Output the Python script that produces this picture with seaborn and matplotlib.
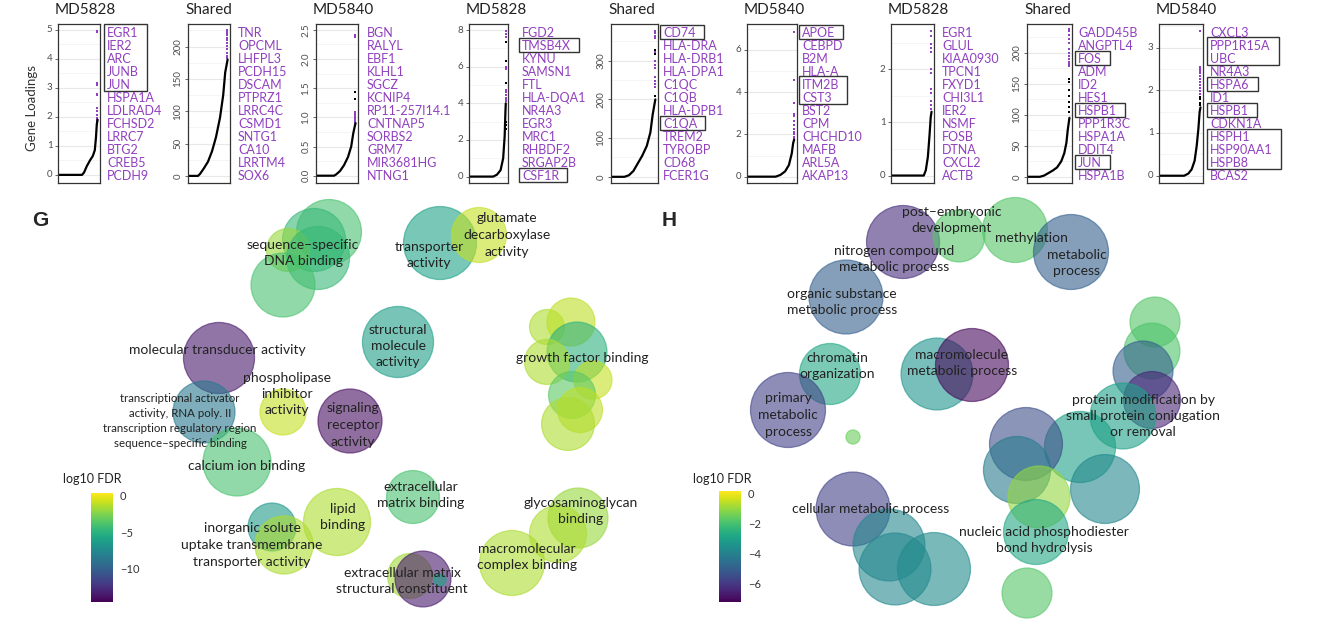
import numpy as np
import pandas as pd
import matplotlib
matplotlib.use('Agg')
import matplotlib.pyplot as plt
import seaborn as sns
from matplotlib.patches import Rectangle
from matplotlib.colors import Normalize
from matplotlib.cm import ScalarMappable
from matplotlib.ticker import FixedLocator, AutoMinorLocator

# ---------------- data: top row (gene loadings) ----------------
panel_titles = ['MD5828', 'Shared', 'MD5840'] * 3

top_genes = [
    ['EGR1', 'IER2', 'ARC', 'JUNB', 'JUN', 'HSPA1A', 'LDLRAD4', 'FCHSD2', 'LRRC7', 'BTG2', 'CREB5', 'PCDH9'],
    ['TNR', 'OPCML', 'LHFPL3', 'PCDH15', 'DSCAM', 'PTPRZ1', 'LRRC4C', 'CSMD1', 'SNTG1', 'CA10', 'LRRTM4', 'SOX6'],
    ['BGN', 'RALYL', 'EBF1', 'KLHL1', 'SGCZ', 'KCNIP4', 'RP11-257I14.1', 'CNTNAP5', 'SORBS2', 'GRM7', 'MIR3681HG', 'NTNG1'],
    ['FGD2', 'TMSB4X', 'KYNU', 'SAMSN1', 'FTL', 'HLA-DQA1', 'NR4A3', 'EGR3', 'MRC1', 'RHBDF2', 'SRGAP2B', 'CSF1R'],
    ['CD74', 'HLA-DRA', 'HLA-DRB1', 'HLA-DPA1', 'C1QC', 'C1QB', 'HLA-DPB1', 'C1QA', 'TREM2', 'TYROBP', 'CD68', 'FCER1G'],
    ['APOE', 'CEBPD', 'B2M', 'HLA-A', 'ITM2B', 'CST3', 'BST2', 'CPM', 'CHCHD10', 'MAFB', 'ARL5A', 'AKAP13'],
    ['EGR1', 'GLUL', 'KIAA0930', 'TPCN1', 'FXYD1', 'CHI3L1', 'IER2', 'NSMF', 'FOSB', 'DTNA', 'CXCL2', 'ACTB'],
    ['GADD45B', 'ANGPTL4', 'FOS', 'ADM', 'ID2', 'HES1', 'HSPB1', 'PPP1R3C', 'HSPA1A', 'DDIT4', 'JUN', 'HSPA1B'],
    ['CXCL3', 'PPP1R15A', 'UBC', 'NR4A3', 'HSPA6', 'ID1', 'HSPB1', 'CDKN1A', 'HSPH1', 'HSP90AA1', 'HSPB8', 'BCAS2'],
]

# (first, last) index of boxed gene groups
boxed_groups = [
    [(0, 4)], [], [], [(1, 1), (11, 11)], [(0, 0), (7, 7)], [(0, 0), (4, 5)],
    [], [(2, 2), (6, 6), (10, 10)], [(1, 2), (4, 4), (6, 6), (8, 10)],
]

# sorted loading curves: gene rank (fraction) and loading
curve_rank = [
    [0, 0.6, 0.65, 0.72, 0.8, 0.87, 0.92, 0.95, 0.97, 0.99],
    [0, 0.25, 0.3, 0.4, 0.5, 0.6, 0.7, 0.8, 0.88, 0.93, 0.99],
    [0, 0.45, 0.5, 0.6, 0.7, 0.8, 0.88, 0.93, 0.97, 0.99],
    [0, 0.65, 0.75, 0.85, 0.92, 0.96, 0.98, 0.99],
    [0, 0.3, 0.4, 0.5, 0.6, 0.7, 0.8, 0.88, 0.93, 0.99],
    [0, 0.6, 0.7, 0.8, 0.88, 0.94, 0.97, 0.99],
    [0, 0.8, 0.85, 0.9, 0.94, 0.97, 0.99],
    [0, 0.3, 0.4, 0.5, 0.6, 0.7, 0.8, 0.87, 0.92, 0.95, 0.99],
    [0, 0.6, 0.7, 0.78, 0.85, 0.9, 0.94, 0.97, 0.99],
]
curve_load = [
    [0, 0, 0.08, 0.3, 0.5, 0.65, 0.85, 1.3, 1.75, 1.9],
    [0, 0, 3, 12, 22, 38, 60, 90, 125, 160, 180],
    [0, 0, 0.02, 0.08, 0.18, 0.32, 0.5, 0.72, 0.85, 0.9],
    [0, 0, 0.1, 0.35, 1.0, 2.2, 3.5, 4.0],
    [0, 0, 4, 15, 35, 55, 80, 115, 160, 200],
    [0, 0, 0.08, 0.25, 0.55, 1.1, 1.6, 1.75],
    [0, 0, 0.1, 0.35, 0.75, 1.1, 1.2],
    [0, 0, 2, 6, 10, 15, 25, 38, 55, 75, 95],
    [0, 0, 0.05, 0.15, 0.35, 0.7, 1.1, 1.5, 1.6],
]
# loadings of the 12 labelled genes (purple) and other top genes (black)
top_load = [
    [4.95, 4.93, 3.15, 3.1, 2.8, 2.75, 2.3, 2.2, 2.05, 1.95, 1.9, 1.85],
    [226, 224, 221, 218, 214, 210, 206, 201, 196, 190, 186, 183],
    [2.42, 2.38, 1.1, 1.07, 1.04, 1.01, 0.99, 0.97, 0.95, 0.93, 0.92, 0.91],
    [7.95, 7.8, 7.6, 6.0, 5.95, 5.85, 4.7, 4.6, 4.45, 4.3, 4.2, 4.1],
    [378, 372, 365, 360, 322, 300, 290, 280, 258, 248, 240, 232],
    [6.85, 4.6, 3.5, 2.95, 2.85, 2.65, 2.45, 2.25, 2.1, 2.0, 1.9, 1.8],
    [2.72, 2.62, 2.48, 2.4, 2.32, 2.0, 1.92, 1.62, 1.55, 1.4, 1.32, 1.26],
    [238, 234, 228, 222, 215, 205, 200, 195, 190, 185, 181, 178],
    [3.38, 2.55, 2.5, 2.45, 2.4, 2.33, 2.27, 2.2, 2.12, 2.05, 1.98, 1.92],
]
other_load = [
    [], [], [1.43, 1.32], [7.35, 6.3, 5.1, 3.0, 2.8, 2.6], [328, 318, 210], [], [],
    [158, 152, 140, 130, 120, 112, 105], [1.85, 1.8, 1.7, 1.65],
]
tick_values = [
    [0, 1, 2, 3, 4, 5], [0, 50, 100, 150, 200], [0, 0.5, 1, 1.5, 2, 2.5],
    [0, 2, 4, 6, 8], [0, 100, 200, 300], [0, 2, 4, 6],
    [0, 1, 2], [0, 50, 100, 150, 200], [0, 1, 2, 3],
]
tick_labels = [
    ['0', '1', '2', '3', '4', '5'], ['0', '50', '100', '150', '200'], ['0.0', '0.5', '1.0', '1.5', '2.0', '2.5'],
    ['0', '2', '4', '6', '8'], ['0', '100', '200', '300'], ['0', '2', '4', '6'],
    ['0', '1', '2'], ['0', '50', '100', '150', '200'], ['0', '1', '2', '3'],
]

# ---------------- data: GO term bubbles ----------------
g_dim1 = [329, 314, 288, 318, 283, 440, 479, 398, 547, 571, 577, 547, 593, 572, 580, 568,
          219, 204, 283, 350, 237, 272, 284, 337, 413, 410, 423, 440, 578, 558, 512]
g_dim2 = [232, 240, 250, 258, 285, 243, 235, 342, 327, 322, 352, 362, 380, 395, 410, 424,
          358, 412, 412, 421, 462, 527, 545, 522, 497, 576, 579, 580, 518, 534, 563]
g_ngenes = [169, 159, 74, 159, 164, 213, 121, 202, 49, 92, 144, 81, 58, 88, 81, 112,
            202, 154, 85, 164, 185, 92, 135, 180, 112, 81, 125, 6, 144, 130, 169]
g_fdr = [-4.0, -4.6, -2.0, -4.6, -4.0, -6.0, -1.0, -6.2, -1.5, -1.2, -5.0, -1.5, -1.0, -3.5, -1.2, -1.5,
         -13.5, -8.5, -1.0, -14.0, -4.0, -6.5, -1.5, -1.5, -4.0, -1.8, -13.5, -6.0, -2.0, -1.5, -1.5]
g_terms = ['sequence–specific\nDNA binding', 'transporter\nactivity', 'glutamate\ndecarboxylase\nactivity',
           'structural\nmolecule\nactivity', 'growth factor binding', 'molecular transducer activity',
           'phospholipase\ninhibitor\nactivity', 'signaling\nreceptor\nactivity', 'calcium ion binding',
           'inorganic solute\nuptake transmembrane\ntransporter activity', 'lipid\nbinding',
           'extracellular\nmatrix binding', 'extracellular matrix\nstructural constituent',
           'glycosaminoglycan\nbinding', 'macromolecular\ncomplex binding',
           'transcriptional activator\nactivity, RNA poly. II\ntranscription regulatory region\nsequence–specific binding']

h_dim1 = [903, 959, 1015, 1071, 846, 830, 788, 937, 972, 853, 853, 889, 895, 934,
          1155, 1152, 1143, 1152, 1123, 1080, 1026, 1017, 1039, 1036, 1105, 1027]
h_dim2 = [242, 236, 230, 252, 297, 374, 410, 374, 365, 437, 509, 545, 569, 569,
          322, 351, 371, 400, 416, 447, 444, 470, 497, 532, 489, 593]
h_ngenes = [213, 108, 169, 225, 219, 149, 225, 207, 213, 8, 219, 207, 207, 213,
            100, 125, 144, 130, 174, 202, 213, 180, 154, 169, 190, 100]
h_fdr = [-6.3, -1.8, -1.8, -5.0, -5.0, -2.8, -5.8, -3.4, -7.1, -1.5, -5.8, -3.8, -3.8, -3.7,
         -1.8, -1.9, -5.0, -6.5, -3.0, -3.0, -5.5, -4.2, -1.0, -2.8, -3.8, -1.8]
h_terms = ['post–embryonic\ndevelopment', 'methylation', 'metabolic\nprocess', 'nitrogen compound\nmetabolic process',
           'organic substance\nmetabolic process', 'chromatin\norganization', 'primary\nmetabolic\nprocess',
           'macromolecule\nmetabolic process', 'cellular metabolic process',
           'protein modification by\nsmall protein conjugation\nor removal',
           'nucleic acid phosphodiester\nbond hydrolysis']

g_fdr_range = (-14.5, 0.3)
h_fdr_range = (-7.27, 0.2)

# ---------------- layout ----------------
W, H = 1327, 627
PURPLE = '#9140bf'
TXT = '#222222'
panel_px = [(58, 100), (188, 230), (316, 358), (469, 508), (611, 658),
            (747, 797), (891, 934), (1027, 1072), (1159, 1203)]
label_gap = [7, 8, 9, 14, 5, 5, 8, 6, 7]
y_limits = [(-0.28, 5.2), (-11, 235), (-0.125, 2.6), (-0.35, 8.33), (-16, 395),
            (-0.3, 7.23), (-0.14, 2.85), (-10, 246), (-0.17, 3.55)]
g_label_xy = [(303, 253), (429, 255), (507, 235), (398, 346), (582, 358), (217, 350),
              (287, 394), (353, 425), (247, 466), (252, 545), (343, 517), (421, 495),
              (402, 581), (581, 511), (527, 557), (180, 421)]
h_label_xy = [(952, 220), (1031, 238), (1077, 263), (894, 259), (842, 302), (837, 366),
              (788, 415), (962, 363), (871, 509), (1143, 416), (1044, 540)]
PANEL_TOP, PANEL_BOT = 24, 183
SIZE_K = 12.96  # pt^2 per gene

sns.set_style('white')
plt.rcParams['font.family'] = ['Lato', 'DejaVu Sans']

fig = plt.figure(figsize=(W / 100, H / 100), dpi=100)

label_texts = []
for i in range(9):
    x0, x1 = panel_px[i]
    ax = fig.add_axes([x0 / W, 1 - PANEL_BOT / H, (x1 - x0) / W, (PANEL_BOT - PANEL_TOP) / H])
    sns.lineplot(x=curve_rank[i], y=curve_load[i], ax=ax, color='black', linewidth=1.6, estimator=None)
    if other_load[i]:
        sns.scatterplot(x=[0.985] * len(other_load[i]), y=other_load[i], ax=ax, color='black',
                        s=3, marker='s', linewidth=0)
    sns.scatterplot(x=[0.985] * len(top_load[i]), y=top_load[i], ax=ax, color=PURPLE,
                    s=3.5, marker='s', linewidth=0)
    ax.set_xlim(0, 1.05)
    ax.set_ylim(*y_limits[i])
    ax.set_xticks([])
    ax.yaxis.set_major_locator(FixedLocator(tick_values[i]))
    rot = 90 if max(len(t) for t in tick_labels[i]) > 1 else 0
    ax.set_yticklabels(tick_labels[i], rotation=rot, va='center')
    ax.yaxis.set_minor_locator(AutoMinorLocator(2))
    ax.grid(axis='y', which='major', color='#e8e8e8', lw=0.8)
    ax.grid(axis='y', which='minor', color='#f4f4f4', lw=0.6)
    ax.tick_params(axis='y', which='major', labelsize=7, labelcolor='#4d4d4d', color='#4d4d4d',
                   length=2.5, width=0.6, pad=1.5, left=True)
    ax.tick_params(axis='y', which='minor', length=0)
    ax.set_xlabel('')
    ax.set_ylabel('')
    for sp in ax.spines.values():
        sp.set_color('#333333')
        sp.set_linewidth(0.9)
    fig.text((x0 - 3) / W, 1 - 10 / H, panel_titles[i], fontsize=11, color=TXT, va='center', ha='left')
    texts = []
    for k, gname in enumerate(top_genes[i]):
        yc = 33 + k * 13.0
        t = fig.text((x1 + label_gap[i]) / W, 1 - yc / H, gname, fontsize=9, color=PURPLE,
                     va='center', ha='left')
        texts.append(t)
    label_texts.append(texts)

fig.text(32 / W, 1 - 108 / H, 'Gene Loadings', rotation=90, fontsize=9.5, color='#333333',
         ha='center', va='center')

# ---------------- GO bubble panels ----------------
def bubble_panel(x_range, dim1, dim2, ngenes, fdr, fdr_range, terms, label_xy, small_last):
    ax = fig.add_axes([x_range[0] / W, 0, (x_range[1] - x_range[0]) / W, (H - 195) / H])
    df = pd.DataFrame({'dim1': dim1, 'dim2': dim2, 'n_genes': ngenes, 'log10_fdr': fdr})
    sns.scatterplot(data=df, x='dim1', y='dim2', hue='log10_fdr', size='n_genes',
                    sizes=(0, 300 * SIZE_K), size_norm=(0, 300), hue_norm=fdr_range,
                    palette='viridis', alpha=0.6, edgecolor='face', linewidth=0.9,
                    legend=False, ax=ax, clip_on=False)
    ax.set_xlim(*x_range)
    ax.set_ylim(H, 195)
    ax.axis('off')
    for j, (term, (lx, ly)) in enumerate(zip(terms, label_xy)):
        small = small_last and j == len(terms) - 1
        ax.text(lx, ly, term, ha='center', va='center', color=TXT,
                fontsize=8.3 if small else 10, linespacing=1.45 if small else 1.45)
    return ax


bubble_panel((0, 660), g_dim1, g_dim2, g_ngenes, g_fdr, g_fdr_range, g_terms, g_label_xy, True)
bubble_panel((660, W), h_dim1, h_dim2, h_ngenes, h_fdr, h_fdr_range, h_terms, h_label_xy, False)

fig.text(40 / W, 1 - 220 / H, 'G', fontsize=15, fontweight='bold', family='Liberation Sans',
         ha='center', va='center')
fig.text(669 / W, 1 - 220 / H, 'H', fontsize=15, fontweight='bold', family='Liberation Sans',
         ha='center', va='center')


def fdr_bar(x0, top, bot, rng, ticks, title_x):
    cax = fig.add_axes([x0 / W, 1 - bot / H, 22 / W, (bot - top) / H])
    sm = ScalarMappable(norm=Normalize(*rng), cmap='viridis')
    cb = fig.colorbar(sm, cax=cax, ticks=ticks)
    cb.outline.set_visible(False)
    cax.tick_params(direction='in', color='white', length=4, width=0.8, labelsize=8,
                    labelcolor='#333333', pad=5, left=True, right=True,
                    labelleft=False, labelright=True)
    fig.text(title_x / W, 1 - 479 / H, 'log10 FDR', fontsize=9, color=TXT, ha='left', va='center')


fdr_bar(91, 493, 602, g_fdr_range, [0, -5, -10], 63)
fdr_bar(719, 491, 602, h_fdr_range, [0, -2, -4, -6], 693)

# ---------------- boxes around highlighted genes ----------------
fig.canvas.draw()
renderer = fig.canvas.get_renderer()
for i in range(9):
    for first, last in boxed_groups[i]:
        ext = [label_texts[i][k].get_window_extent(renderer) for k in range(first, last + 1)]
        left = min(e.x0 for e in ext) - 3
        right = max(e.x1 for e in ext) + 8
        top = 33 + first * 13.0 - 8.5
        bot = 33 + last * 13.0 + 6
        fig.add_artist(Rectangle((left / W, 1 - bot / H), (right - left) / W, (bot - top) / H,
                                 transform=fig.transFigure, fill=False, edgecolor='#333333', lw=1.0))

fig.savefig('out.png', dpi=100, facecolor='white')
